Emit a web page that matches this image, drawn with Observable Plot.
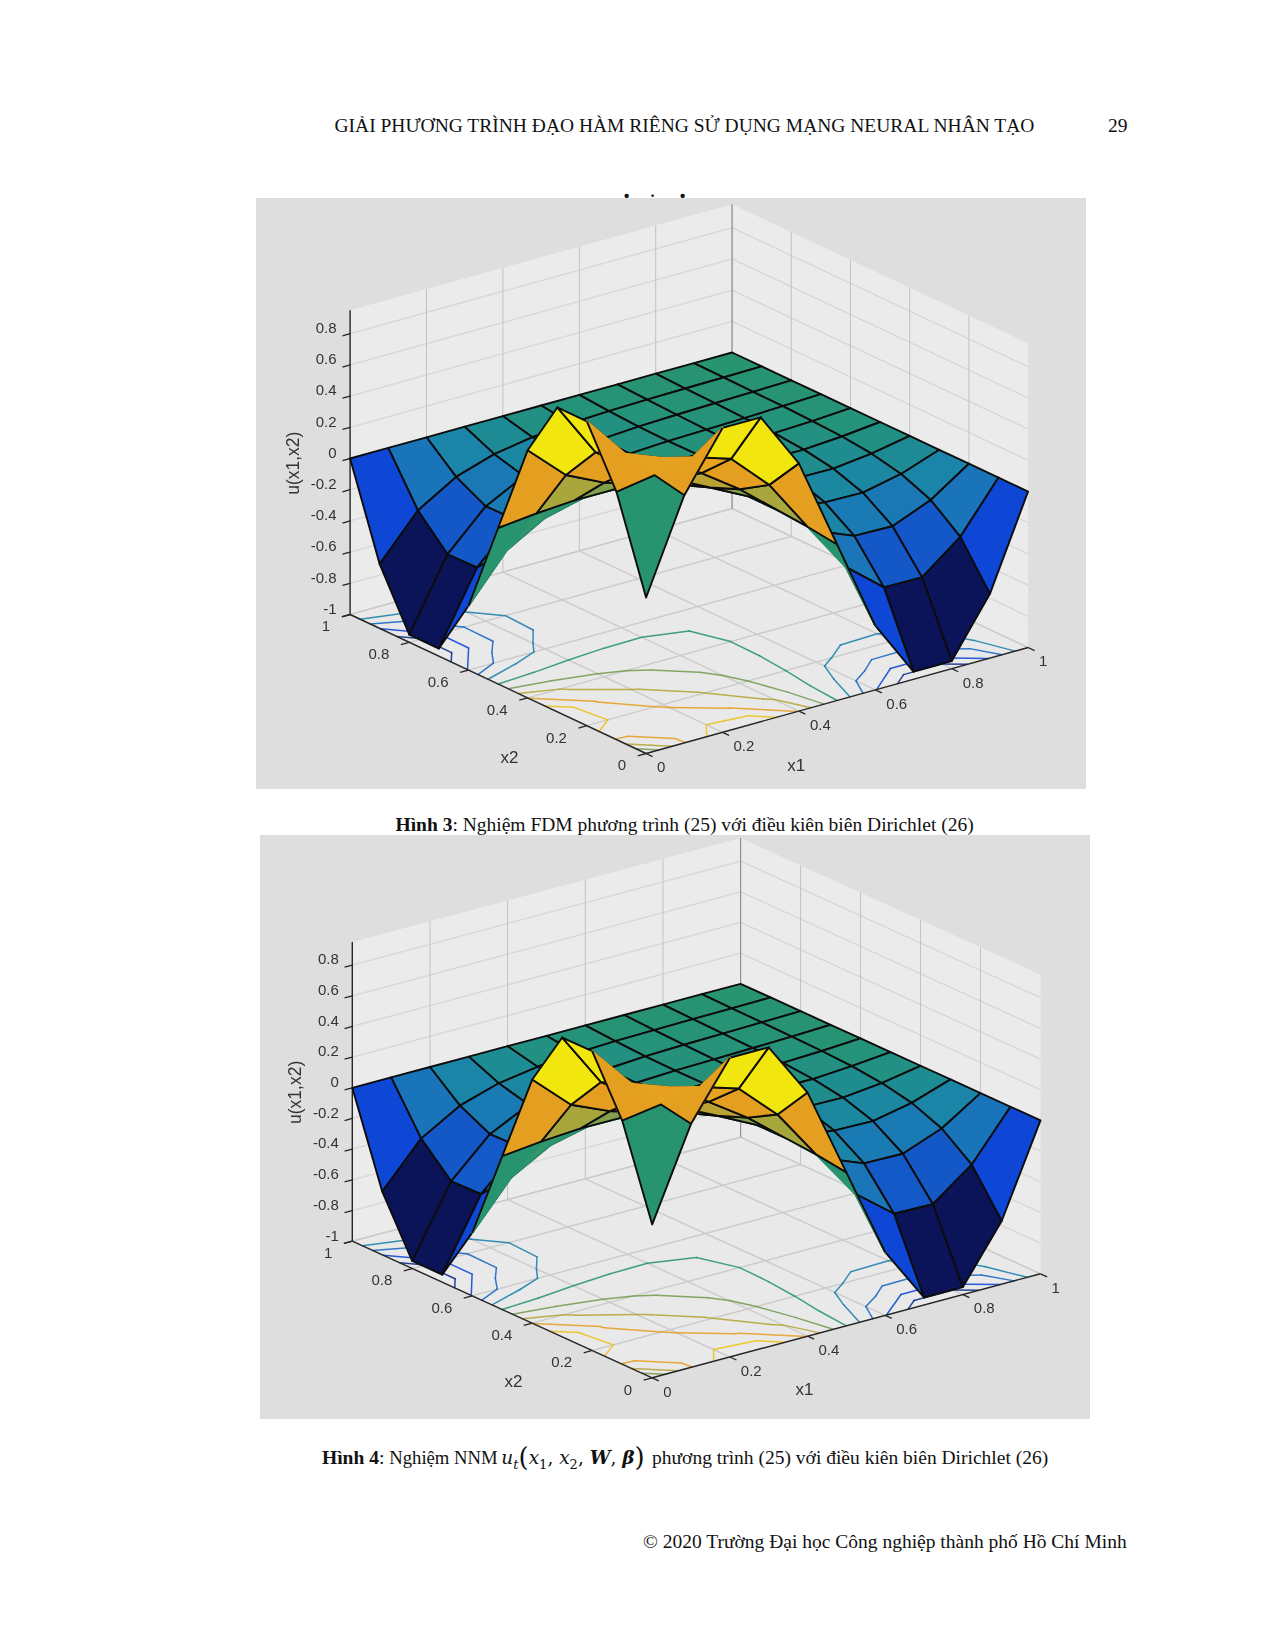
<!DOCTYPE html>
<html><head><meta charset="utf-8">
<script src="https://cdn.jsdelivr.net/npm/d3@7"></script>
<script src="https://cdn.jsdelivr.net/npm/@observablehq/plot@0.6"></script>
<style>
html,body{margin:0;padding:0;background:#fff;}
#page{position:relative;width:1274px;height:1649px;overflow:hidden;font-family:"Liberation Serif",serif;color:#111;}
.t{position:absolute;white-space:nowrap;line-height:1;}
.frag{position:absolute;font:bold 15px "Liberation Sans",sans-serif;color:#111;line-height:1;}
#page svg{filter:blur(0.55px);}
.m{font-family:"DejaVu Serif","Liberation Serif",serif;font-size:18.5px;margin-left:-1px;margin-right:2.5px;}
.p{font-size:26px;font-weight:normal;vertical-align:-2px;}
sub{font-size:13px;line-height:0;}
</style></head><body><div id="page">
<div class="t" style="left:334.5px;top:116px;font-size:19.5px;">GIẢI PHƯƠNG TRÌNH ĐẠO HÀM RIÊNG SỬ DỤNG MẠNG NEURAL NHÂN TẠO</div>
<div class="t" style="left:1108px;top:116px;font-size:19.5px;">29</div>
<div class="frag" style="left:624px;top:188px;">•</div>
<div class="frag" style="left:651px;top:188px;font-size:9px;top:192px;">•</div>
<div class="frag" style="left:680px;top:188px;">•</div>
<div class="t" style="left:395.5px;top:815px;font-size:19.5px;"><b>Hình 3</b>: Nghiệm FDM phương trình (25) với điều kiên biên Dirichlet (26)</div>
<div class="t" style="left:322px;top:1443.5px;font-size:19.5px;"><b>Hình 4</b>: <span style="font-size:18.7px">Nghiệm NNM </span><span class="m"><i>u<sub>t</sub></i><span class="p">(</span><i>x</i><sub>1</sub>, <i>x</i><sub>2</sub>, <b><i>W</i></b>, <b><i>β</i></b><span class="p">)</span></span> phương trình (25) với điều kiên biên Dirichlet (26)</div>
<div class="t" style="left:643px;top:1532px;font-size:19.5px;">© 2020 Trường Đại học Công nghiệp thành phố Hồ Chí Minh</div>
</div>
<script>
// u(x1,x2): rows are x1 = 0, 0.1 … 1, columns are x2 = 0, 0.1 … 1
const uFDM = [
 [0,.588,.951,.951,.588,0,-.588,-.951,-.951,-.588,0],
 [.588,.627,.675,.596,.361,.025,-.300,-.500,-.504,-.312,0],
 [.951,.675,.580,.415,.244,.041,-.160,-.259,-.265,-.165,0],
 [.951,.596,.415,.289,.166,.041,-.100,-.133,-.139,-.087,0],
 [.588,.361,.244,.166,.095,.025,-.055,-.070,-.074,-.046,0],
 [0,.025,.041,.041,.025,0,-.025,-.041,-.041,-.025,0],
 [-.588,-.300,-.160,-.100,-.055,-.025,-.027,-.029,-.025,-.015,0],
 [-.951,-.500,-.259,-.133,-.070,-.041,-.029,-.023,-.017,-.009,0],
 [-.951,-.504,-.265,-.139,-.074,-.041,-.025,-.017,-.011,-.006,0],
 [-.588,-.312,-.165,-.087,-.046,-.025,-.015,-.009,-.006,-.003,0],
 [0,0,0,0,0,0,0,0,0,0,0]
];
const uNNM = [
 [0,.588,.951,.951,.588,0,-.588,-.951,-.951,-.588,0],
 [.588,.625,.672,.593,.356,.027,-.296,-.494,-.500,-.310,0],
 [.951,.672,.580,.418,.247,.043,-.155,-.255,-.260,-.163,0],
 [.951,.593,.418,.292,.170,.043,-.096,-.130,-.136,-.085,0],
 [.588,.356,.247,.170,.098,.027,-.052,-.068,-.072,-.045,0],
 [0,.027,.043,.043,.027,0,-.024,-.039,-.040,-.024,0],
 [-.588,-.296,-.155,-.096,-.052,-.024,-.026,-.028,-.024,-.014,0],
 [-.951,-.494,-.255,-.130,-.068,-.039,-.028,-.022,-.016,-.009,0],
 [-.951,-.500,-.260,-.136,-.072,-.040,-.024,-.016,-.011,-.006,0],
 [-.588,-.310,-.163,-.085,-.045,-.024,-.014,-.009,-.006,-.003,0],
 [0,0,0,0,0,0,0,0,0,0,0]
];
const floorTicks = [0,.2,.4,.6,.8,1];
const floorLabels = ["0","0.2","0.4","0.6","0.8","1"];
const zTicks = [-1,-.8,-.6,-.4,-.2,0,.2,.4,.6,.8];
const zLabels = ["-1","-0.8","-0.6","-0.4","-0.2","0","0.2","0.4","0.6","0.8"];
const contourLevels = [-.8,-.6,-.4,-.2,0,.2,.4,.6,.8];
const colorStops = [-.95,-.59,-.5,-.31,-.16,-.08,0,.17,.36,.54,.68,.95];
const colorValues = ["#0b1458","#0e46d6","#1458c8","#1a74ba","#1b85a8","#1e8c92","#28946f","#6a9a55","#a8a63c","#e39c20","#e8a420","#f2e60f"];
const zTop = .95;
const lineDark = "#0c0c0c", lineGreen = "#28946f", lineOrange = "#e4a020";

const figures = [
  {u:uFDM, left:256, top:198, w:830, h:591, o:[389.6,555], e1:[382,-106], e2:[-296,-139], ez:156},
  {u:uNNM, left:260, top:835, w:830, h:584, o:[391.7,542.3], e1:[388.3,-104], e2:[-299.9,-136.6], ez:153.4}
];

function drawFigure(f){
  const P = (a,b,z) => ({x:f.o[0]+a*f.e1[0]+b*f.e2[0], y:f.o[1]+a*f.e1[1]+b*f.e2[1]-(z+1)*f.ez});
  const seg = (A,B) => ({x1:A.x,y1:A.y,x2:B.x,y2:B.y});
  const leftWall = [P(0,1,-1),P(1,1,-1),P(1,1,zTop),P(0,1,zTop),P(0,1,-1)];
  const rightWall = [P(1,0,-1),P(1,1,-1),P(1,1,zTop),P(1,0,zTop),P(1,0,-1)];
  const floor = [P(0,0,-1),P(1,0,-1),P(1,1,-1),P(0,1,-1),P(0,0,-1)];
  const floorLines = [], wallLines = [], vertLines = [];
  for (const t of floorTicks){
    floorLines.push(seg(P(t,0,-1),P(t,1,-1)), seg(P(0,t,-1),P(1,t,-1)));
    if (t>0){ vertLines.push(seg(P(t,1,-1),P(t,1,zTop)), seg(P(1,t,-1),P(1,t,zTop))); }
  }
  for (const z of zTicks){ wallLines.push(seg(P(0,1,z),P(1,1,z)), seg(P(1,0,z),P(1,1,z))); }

  // contours on the floor, cut free of the grid border
  const n = 11, flat = [];
  for (let j=0;j<n;j++) for (let i=0;i<n;i++) flat.push(f.u[i][j]);
  const contourRows = [];
  let cid = 0;
  const clampC = c => Math.max(0,Math.min(1,(c-.5)/10));
  for (const c of d3.contours().size([n,n]).thresholds(contourLevels)(flat)){
    for (const polyg of c.coordinates) for (const ring of polyg){
      const pts = ring.map(([a,b])=>[clampC(a),clampC(b)]);
      const onSame = (A,B) => (A[0]===0&&B[0]===0)||(A[1]===0&&B[1]===0)||(A[0]>.995&&B[0]>.995)||(A[1]>.995&&B[1]>.995);
      for (let k=0;k<pts.length-1;k++){
        const A0=pts[k],B0=pts[k+1];
        if (onSame(A0,B0)) continue;
        if (c.value===0 && (Math.max(A0[0],A0[1])>.7 || Math.max(B0[0],B0[1])>.7)) continue;
        const A=P(A0[0],A0[1],-1), B=P(B0[0],B0[1],-1);
        contourRows.push({id:cid,level:c.value,x:A.x,y:A.y},{id:cid,level:c.value,x:B.x,y:B.y});
        cid++;
      }
    }
  }

  // surface, far cells first; a face takes the value of its lowest corner.
  // The ridge row x2=0.5 / column x1=0.5 and the central orange faces show no black mesh line.
  const order = [];
  for (let i=0;i<n-1;i++) for (let j=0;j<n-1;j++) order.push([i,j]);
  order.sort((A,B)=>(B[0]+B[1])-(A[0]+A[1]) || B[1]-A[1]);
  const cells = [], corner = [];
  for (const [i,j] of order){
    const id = i*100+j, v = f.u[i][j];
    let edge = lineDark;
    if ((j===5 && i<5) || (i===5 && j<5)) edge = lineGreen;
    if ((i===1&&j===1)||(i===0&&j===1)||(i===1&&j===0)) edge = lineOrange;
    const target = (i===0&&j===0) ? corner : cells;
    for (const [a,b] of [[i,j],[i+1,j],[i+1,j+1],[i,j+1],[i,j]]){
      target.push({id, v, edge, ...P(a/10,b/10,f.u[a][b])});
    }
  }
  const pu = (i,j) => P(i/10,j/10,f.u[i][j]);
  const rims = [seg(pu(0,5),pu(0,6)), seg(pu(5,0),pu(6,0)), seg(pu(0,1),pu(0,2)), seg(pu(1,0),pu(2,0))];

  const axes = [seg(P(0,0,-1),P(1,0,-1)), seg(P(0,0,-1),P(0,1,-1)), seg(P(0,1,-1),P(0,1,zTop))];
  const ticks = [];
  const x1Text = [], x2Text = [], zText = [];
  floorTicks.forEach((t,k)=>{
    ticks.push(seg(P(t,0,-1),P(t,-.022,-1)), seg(P(0,t,-1),P(-.022,t,-1)));
    x1Text.push({...P(t,0,-1),label:floorLabels[k]});
    x2Text.push({...P(0,t,-1),label:floorLabels[k]});
  });
  zTicks.forEach((z,k)=>{
    ticks.push(seg(P(0,1,z),P(-.02,1,z)));
    zText.push({...P(0,1,z),label:zLabels[k]});
  });
  const font = {fontFamily:"Liberation Sans, Arial, sans-serif", fontSize:15, fill:"#333"};
  const link = {x1:"x1",y1:"y1",x2:"x2",y2:"y2"};

  const svg = Plot.plot({
    width:f.w, height:f.h, margin:0,
    x:{domain:[0,f.w],range:[0,f.w],axis:null},
    y:{domain:[0,f.h],range:[0,f.h],axis:null},
    color:{type:"linear",domain:colorStops,range:colorValues,clamp:true},
    style:{background:"#dedede",position:"absolute",left:f.left+"px",top:f.top+"px",overflow:"visible"},
    marks:[
      Plot.line(leftWall,{x:"x",y:"y",fill:"#ebebeb",stroke:"none"}),
      Plot.line(rightWall,{x:"x",y:"y",fill:"#ebebeb",stroke:"none"}),
      Plot.line(floor,{x:"x",y:"y",fill:"#e9e9e9",stroke:"none"}),
      Plot.link(wallLines,{...link,stroke:"#d6d6d6",strokeWidth:1.3}),
      Plot.link(floorLines,{...link,stroke:"#cbcbcb",strokeWidth:1.4}),
      Plot.link(vertLines,{...link,stroke:"#c2c2c2",strokeWidth:1}),
      Plot.link([seg(P(1,1,-1),P(1,1,zTop))],{...link,stroke:"#8e8e8e",strokeWidth:1}),
      Plot.line(contourRows,{x:"x",y:"y",z:"id",stroke:"level",strokeWidth:1.5,strokeOpacity:.88}),
      Plot.link(axes,{...link,stroke:"#262626",strokeWidth:1.4}),
      Plot.link(ticks,{...link,stroke:"#262626",strokeWidth:1.3}),
      Plot.line(cells,{x:"x",y:"y",z:"id",fill:"v",stroke:{value:"edge",scale:null},strokeWidth:1.9,strokeLinejoin:"round"}),
      Plot.link(rims,{...link,stroke:lineDark,strokeWidth:1.9}),
      Plot.line(corner,{x:"x",y:"y",z:"id",fill:"v",stroke:lineDark,strokeWidth:1.9,strokeLinejoin:"round"}),
      Plot.text(zText,{x:"x",y:"y",text:"label",textAnchor:"end",dx:-13.5,dy:-5.5,...font}),
      Plot.text(x1Text,{x:"x",y:"y",text:"label",textAnchor:"start",dx:11,dy:14,...font}),
      Plot.text(x2Text,{x:"x",y:"y",text:"label",textAnchor:"end",dx:-20,dy:12,...font}),
      Plot.text([P(.205,-.2425,-1)],{x:"x",y:"y",text:()=>"x1",...font,fontSize:17}),
      Plot.text([P(-.2388,.1533,-1)],{x:"x",y:"y",text:()=>"x2",...font,fontSize:17}),
      Plot.text([P(0,1,-.03)],{x:"x",y:"y",text:()=>"u(x1,x2)",rotate:-90,dx:-57,...font,fontSize:17.5})
    ]
  });
  document.getElementById("page").appendChild(svg);
}
figures.forEach(drawFigure);
</script>
</body></html>
